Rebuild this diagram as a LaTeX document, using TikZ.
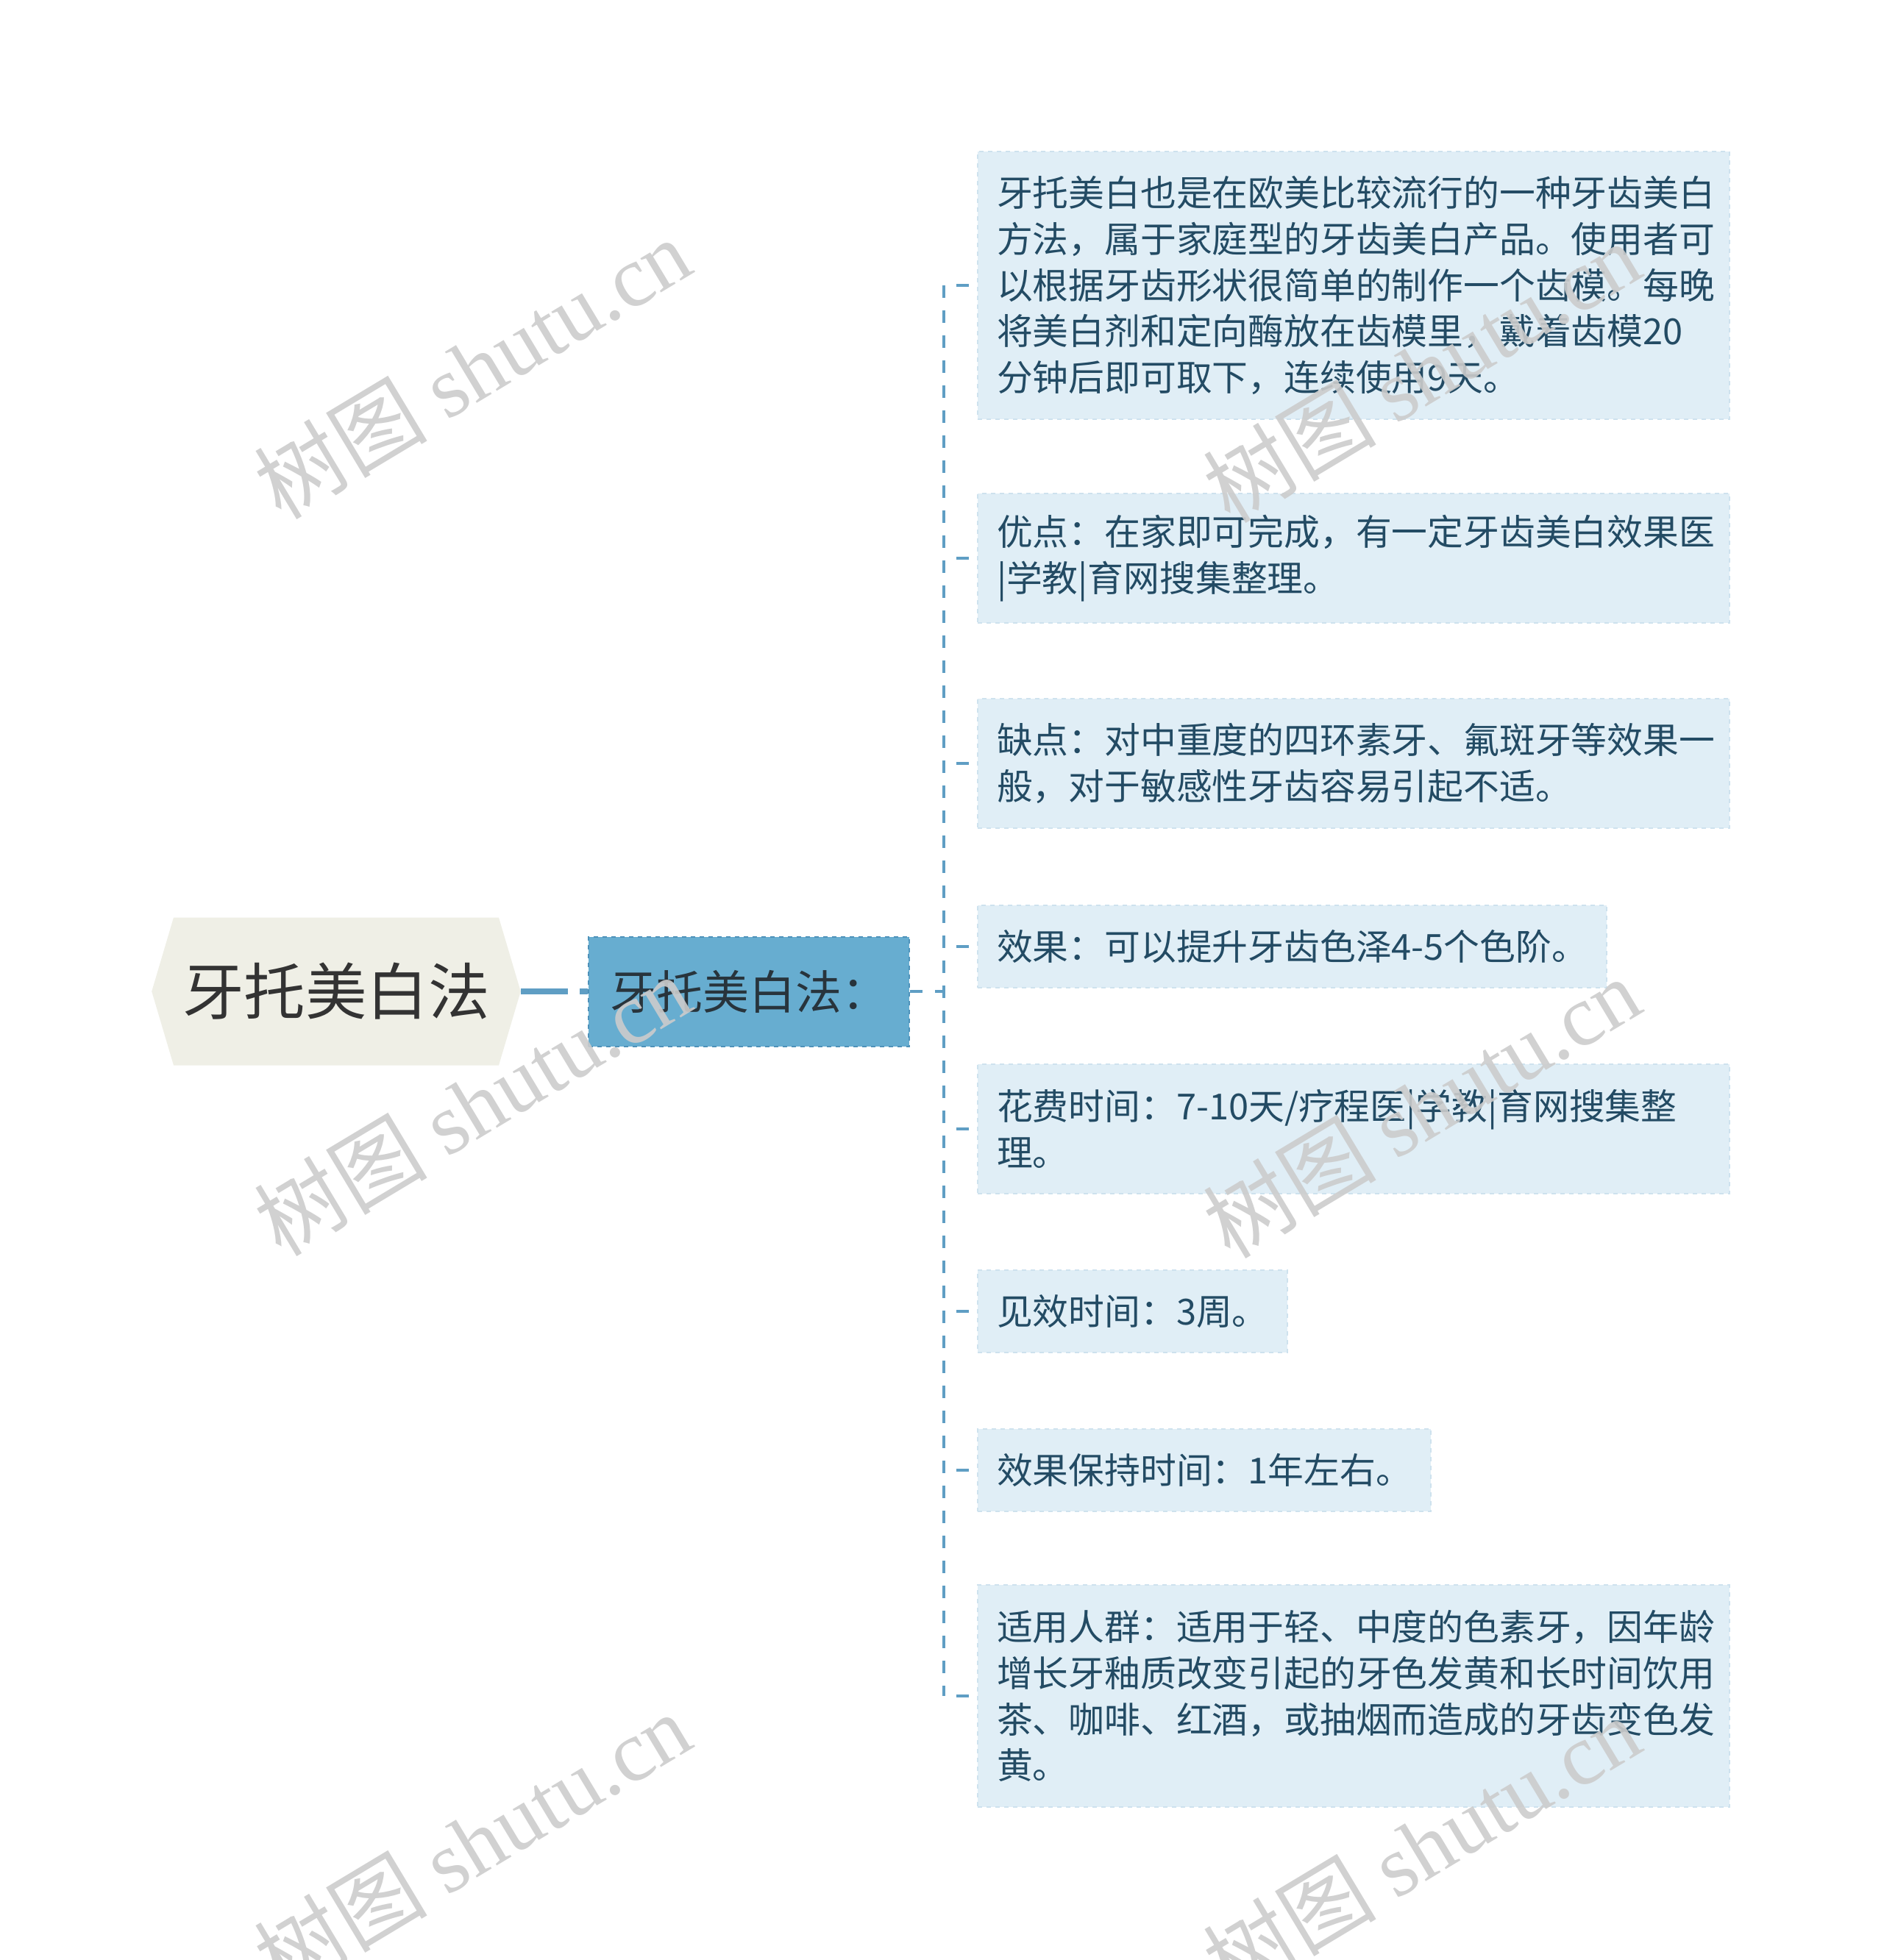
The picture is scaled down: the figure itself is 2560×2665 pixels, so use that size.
\documentclass[tikz,border=0pt]{standalone}
\usepackage{fontspec}
\setmainfont{Noto Sans CJK SC}
\newfontfamily\wmfont{Liberation Serif}
\usetikzlibrary{shapes.symbols}
\definecolor{rootbg}{RGB}{239,239,230}
\definecolor{roottext}{RGB}{51,51,51}
\definecolor{mainbg}{RGB}{103,173,208}
\definecolor{mainedge}{RGB}{78,146,186}
\definecolor{maintext}{RGB}{40,52,60}
\definecolor{leafbg}{RGB}{224,238,246}
\definecolor{leafedge}{RGB}{206,226,238}
\definecolor{leaftext}{RGB}{35,75,100}
\definecolor{linkblue}{RGB}{95,158,196}
\begin{document}
\begin{tikzpicture}[x=0.5pt, y=-0.5pt,
    rootnode/.style={signal, signal to=west and east, signal pointer angle=147,
      fill=rootbg, text=roottext, font=\fontsize{41.8}{41.8}\selectfont,
      minimum height=100.5pt, inner xsep=6pt},
    mainnode/.style={fill=mainbg, draw=mainedge, dashed, line width=1pt, text=maintext,
      font=\fontsize{31.5}{31.5}\selectfont, minimum width=218pt, minimum height=74.5pt},
    leaf/.style={anchor=west, fill=leafbg, draw=leafedge, dashed, line width=1pt,
      text=leaftext, font=\fontsize{24.4}{31.4}\selectfont, align=left,
      inner xsep=13pt, inner ysep=0pt, minimum height=25pt+31.4pt*#1},
    leaf/.default=1,
    bigleaf/.style={leaf=#1, text width=485pt},
    link/.style={draw=linkblue, line width=1.7pt, dash pattern=on 8.5pt off 8.5pt},
    tick/.style={link, dash phase=8.5pt},
    rootlink/.style={draw=linkblue, line width=3.7pt, dash pattern=on 32pt off 8pt on 6.5pt off 60pt},
    watermark/.style={rotate=31, text=black!20, opacity=0.9, font=\fontsize{59}{59}\selectfont}]

  \useasboundingbox (0,0) rectangle (2560,2665);

  % 1. tema central e ramo principal
  \node[rootnode] (root) at (457,1348) {牙托美白法};
  \node[mainnode] (main) at (1018,1348) {牙托美白法：};

  % 2. folhas
  \node[bigleaf=5] (l1) at (1328,388) {牙托美白也是在欧美比较流行的一种牙齿美白\\方法，属于家庭型的牙齿美白产品。使用者可\\以根据牙齿形状很简单的制作一个齿模。每晚\\将美白剂和定向酶放在齿模里，戴着齿模20\\分钟后即可取下，连续使用9天。};
  \node[bigleaf=2] (l2) at (1328,759) {优点：在家即可完成，有一定牙齿美白效果医\\|学教|育网搜集整理。};
  \node[bigleaf=2] (l3) at (1328,1038) {缺点：对中重度的四环素牙、氟斑牙等效果一\\般，对于敏感性牙齿容易引起不适。};
  \node[leaf] (l4) at (1328,1287) {效果：可以提升牙齿色泽4-5个色阶。};
  \node[bigleaf=2] (l5) at (1328,1535) {花费时间：7-10天/疗程医|学教|育网搜集整\\理。};
  \node[leaf] (l6) at (1328,1783) {见效时间：3周。};
  \node[leaf] (l7) at (1328,1999) {效果保持时间：1年左右。};
  \node[bigleaf=4] (l8) at (1328,2306) {适用人群：适用于轻、中度的色素牙，因年龄\\增长牙釉质改变引起的牙色发黄和长时间饮用\\茶、咖啡、红酒，或抽烟而造成的牙齿变色发\\黄。};

  % 3. ligações
  \coordinate (spine) at (1283,0);
  \draw[rootlink] (root.east) -- (main.west);
  \draw[link] (main.east) -- (main.east -| spine);
  \draw[link] (spine |- l1.west) -- (spine |- l8.west);
  \foreach \i in {1,...,8} {
    \draw[tick] (spine |- l\i.west) -- (l\i.west);
  }

  % 4. marca d'água
  \foreach \wx/\wy in {642/500, 642/1502, 642/2505, 1932/505, 1932/1505, 1932/2510} {
    \node[watermark] at (\wx,\wy) {树图 {\wmfont shutu.cn}};
  }
\end{tikzpicture}
\end{document}
